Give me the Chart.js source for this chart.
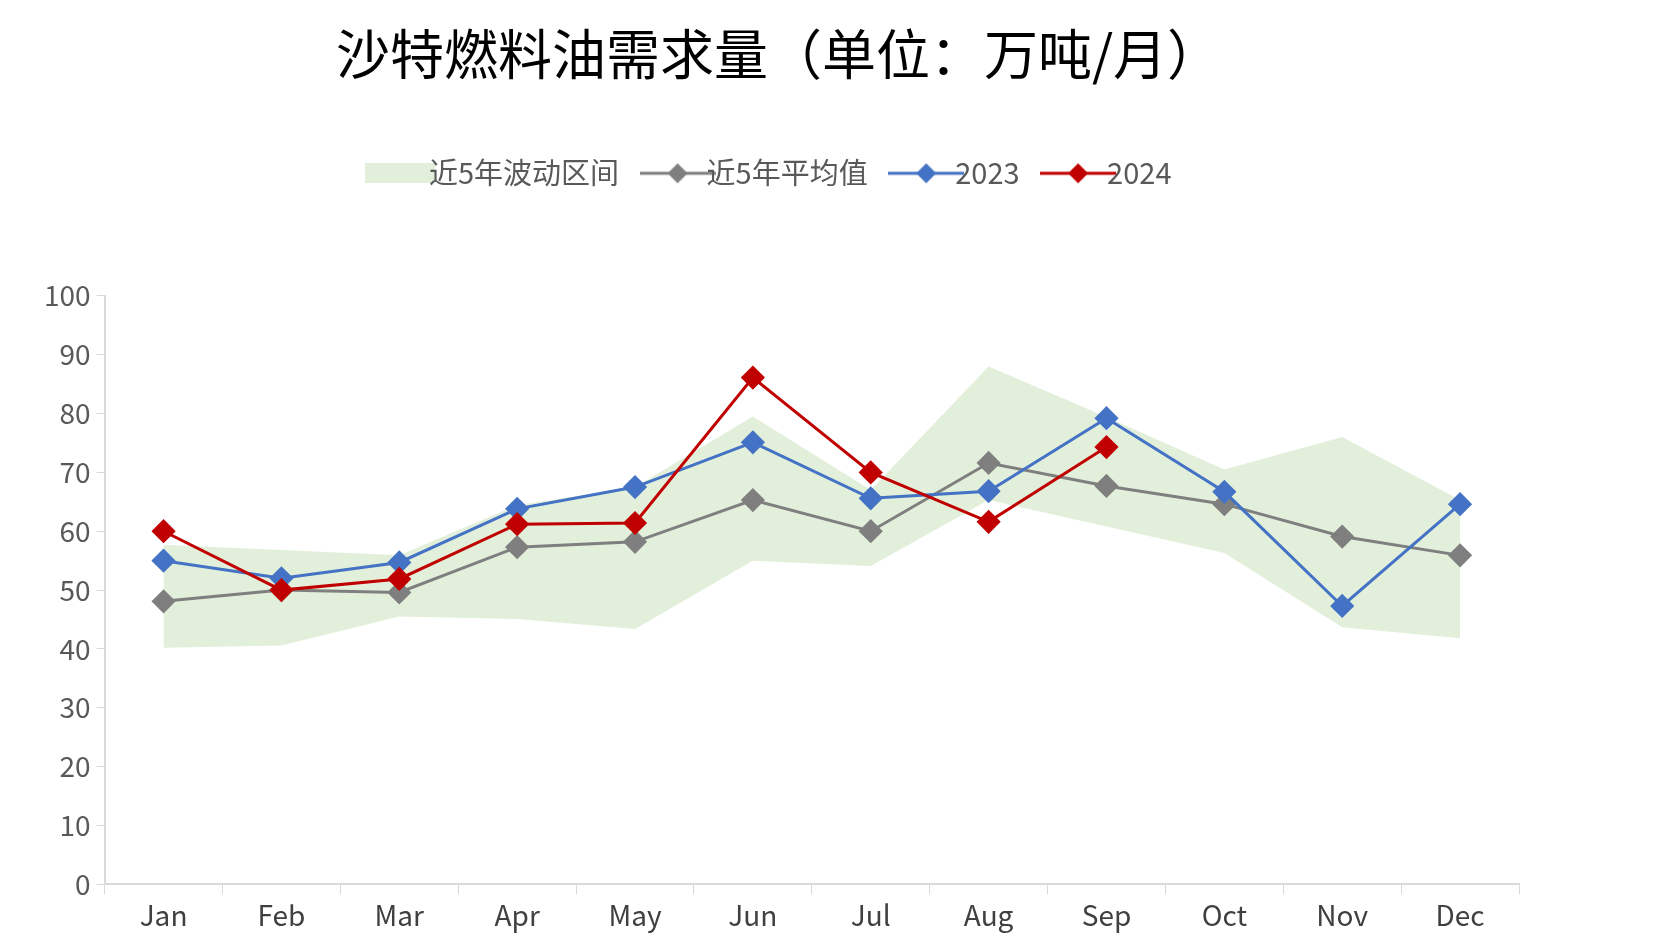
<!DOCTYPE html>
<html><head><meta charset="utf-8">
<script src="https://cdn.jsdelivr.net/npm/chart.js@4/dist/chart.umd.min.js"></script>
<style>html,body{margin:0;background:#fff}#w{width:1659px;height:952px}</style>
</head><body><div id="w"><canvas id="c"></canvas></div>
<script>
const categories=['Jan','Feb','Mar','Apr','May','Jun','Jul','Aug','Sep','Oct','Nov','Dec'];
const bandLow=[40.2,40.6,45.5,45.1,43.4,55,54.1,65.3,60.8,56.3,43.7,41.8];
const bandHigh=[57.7,56.8,55.9,64.4,67.5,79.5,67,88,79.4,70.5,76,65.3];
const avg5=[48.1,50,49.6,57.3,58.2,65.3,60,71.6,67.7,64.6,59.1,55.9];
const y2023=[55,52,54.7,63.8,67.5,75.1,65.6,66.8,79.2,66.7,47.3,64.6];
const y2024=[60,50,51.9,61.2,61.4,86.1,70,61.6,74.3,null,null,null];
const yTicks=[0,10,20,30,40,50,60,70,80,90,100];
const F='"Noto Sans CJK SC","Noto Sans",sans-serif';
function legImg(color){const c=document.createElement('canvas');c.width=76;c.height=24;const g=c.getContext('2d');
g.strokeStyle=color;g.lineWidth=3;g.beginPath();g.moveTo(0,12);g.lineTo(76,12);g.stroke();
g.fillStyle=color;g.beginPath();g.moveTo(38,2);g.lineTo(48,12);g.lineTo(38,22);g.lineTo(28,12);g.closePath();g.fill();return c;}
function bandImg(){const c=document.createElement('canvas');c.width=70;c.height=20;const g=c.getContext('2d');g.fillStyle='#e2efda';g.fillRect(0,0,70,20);return c;}
const line=(label,data,color,o)=>({label,data,borderColor:color,backgroundColor:color,borderWidth:3,pointStyle:'rectRot',pointRadius:10,pointHoverRadius:10,fill:false,tension:0,spanGaps:false,order:o});
new Chart(document.getElementById('c'),{type:'line',
data:{labels:categories,datasets:[
{label:'low',data:bandLow,borderWidth:0,pointRadius:0,fill:false,backgroundColor:'#e2efda',order:10},
{label:'近5年波动区间',data:bandHigh,borderWidth:0,pointRadius:0,fill:'-1',backgroundColor:'#e2efda',order:9},
line('近5年平均值',avg5,'#7f7f7f',3),
line('2023',y2023,'#4472c4',2),
line('2024',y2024,'#c00000',1)]},
options:{responsive:true,maintainAspectRatio:false,animation:false,
layout:{padding:{left:38,right:140,top:0,bottom:16}},
plugins:{title:{display:true,text:'沙特燃料油需求量（单位：万吨/月）',color:'#000',font:{family:F,size:54,weight:'normal'},padding:{top:22,bottom:28}},
legend:{position:'top',labels:{usePointStyle:true,color:'#595959',font:{family:F,size:29},padding:44,
generateLabels:(ch)=>{const cols={1:null,2:'#7f7f7f',3:'#4472c4',4:'#c00000'};return [1,2,3,4].map(i=>({text:ch.data.datasets[i].label,datasetIndex:i,pointStyle:i==1?bandImg():legImg(cols[i]),fontColor:'#595959',lineWidth:0,strokeStyle:'transparent',fillStyle:'transparent'}));}},
onClick:()=>{}},tooltip:{enabled:false}},
scales:{x:{offset:true,grid:{display:true,drawOnChartArea:false,offset:true,tickLength:10,color:'#d9d9d9'},border:{color:'#d9d9d9',width:2},ticks:{color:'#404040',font:{family:F,size:28},padding:4}},
y:{min:0,max:100,afterBuildTicks:a=>{a.ticks=yTicks.map(v=>({value:v}));},grid:{drawOnChartArea:false,tickLength:8,color:'#d9d9d9'},border:{color:'#d9d9d9',width:2},ticks:{color:'#595959',font:{family:F,size:28},padding:6}}}},
plugins:[{id:'legSpace',beforeInit(ch){const f=ch.legend.fit;ch.legend.fit=function(){f.bind(ch.legend)();this.height+=98;};}}]
});
</script></body></html>
